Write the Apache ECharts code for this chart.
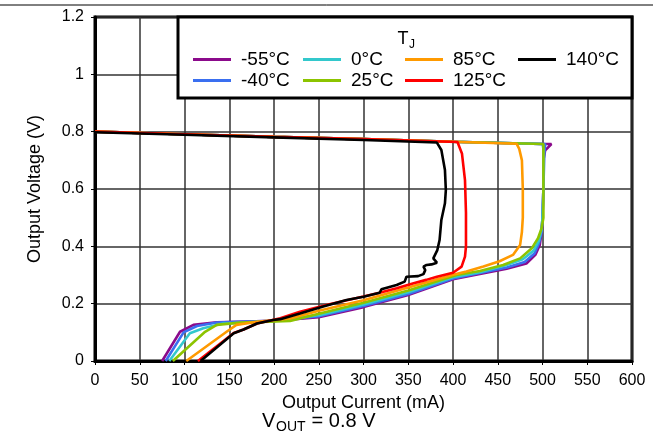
<!DOCTYPE html>
<html>
<head>
<meta charset="utf-8">
<script src="https://cdn.jsdelivr.net/npm/echarts@6/dist/echarts.min.js"></script>
<style>
html,body{margin:0;padding:0;background:#fff;}
#chart{width:653px;height:438px;}
</style>
</head>
<body>
<div id="chart"></div>
<script>
// Axis settings
const xMin = 0, xMax = 600, xStep = 50;
const yMin = 0, yMax = 1.2, yStep = 0.2;
const xTitle = 'Output Current (mA)';
const yTitle = 'Output Voltage (V)';

// Series names (junction temperature)
const seriesNames = ['-55°C', '-40°C', '0°C', '25°C', '85°C', '125°C', '140°C'];
const seriesColors = ['#8b0a8b', '#3a6ff0', '#33c8cc', '#8cc400', '#ff9a00', '#ff0000', '#000000'];

// [current mA, voltage V]
const tm55 = [[0,0.800],[100,0.791],[200,0.782],[300,0.774],[400,0.765],[500,0.757],[510,0.757],[503,0.735],[501,0.70],[501,0.60],[500,0.50],[499,0.45],[497,0.405],[492,0.37],[482,0.34],[460,0.322],[430,0.304],[400,0.285],[350,0.23],[300,0.188],[250,0.153],[200,0.140],[160,0.137],[136,0.135],[110,0.126],[95,0.102],[75,0]];
const tm40 = [[0,0.800],[100,0.791],[200,0.782],[300,0.774],[400,0.765],[500,0.757],[503,0.757],[502,0.72],[501,0.60],[500,0.50],[499,0.45],[496,0.41],[491,0.375],[480,0.345],[460,0.326],[430,0.307],[400,0.288],[350,0.234],[300,0.192],[250,0.156],[200,0.140],[160,0.137],[136,0.134],[114,0.122],[99,0.10],[79,0]];
const t0 = [[0,0.800],[100,0.791],[200,0.782],[300,0.774],[400,0.765],[500,0.757],[501,0.74],[501,0.60],[500,0.50],[499,0.46],[496,0.42],[490,0.385],[478,0.355],[458,0.333],[430,0.31],[400,0.292],[350,0.24],[300,0.197],[250,0.16],[200,0.141],[173,0.134],[143,0.131],[121,0.114],[106,0.097],[83,0]];
const t25 = [[0,0.800],[100,0.791],[200,0.782],[300,0.774],[400,0.765],[501,0.757],[501,0.60],[501,0.50],[499,0.463],[495,0.428],[488,0.393],[475,0.358],[456,0.335],[430,0.314],[404,0.30],[350,0.246],[300,0.203],[250,0.165],[218,0.14],[162,0.134],[136,0.126],[123,0.102],[87,0]];
const t85 = [[0,0.800],[100,0.791],[200,0.782],[300,0.774],[400,0.765],[471,0.758],[474,0.74],[477,0.70],[478,0.60],[478,0.50],[477,0.45],[475,0.405],[467,0.37],[452,0.348],[434,0.33],[415,0.312],[400,0.301],[350,0.256],[300,0.212],[250,0.175],[218,0.148],[181,0.137],[158,0.126],[147,0.102],[102,0]];
const t125 = [[0,0.800],[100,0.791],[200,0.782],[300,0.774],[405,0.764],[410,0.724],[413.4,0.631],[414.5,0.516],[414.5,0.40],[413.4,0.364],[409.6,0.329],[400,0.308],[382,0.294],[370,0.283],[356,0.271],[337,0.254],[318,0.238],[300,0.225],[263,0.199],[229,0.172],[207,0.149],[181,0.131],[166,0.11],[155,0.098],[115,0]];
const t140 = [[0,0.798],[100,0.789],[200,0.78],[300,0.771],[382,0.762],[387,0.736],[391,0.666],[392,0.596],[391,0.55],[387,0.492],[385,0.422],[382.5,0.387],[378,0.358],[382,0.343],[376,0.337],[370.5,0.335],[367,0.329],[369,0.317],[367,0.303],[361,0.296],[348,0.294],[346,0.277],[337,0.265],[330,0.259],[320,0.25],[318,0.238],[300,0.224],[281,0.213],[255,0.19],[229,0.166],[207,0.146],[199,0.143],[181,0.131],[166,0.11],[155,0.097],[118,0]];

const seriesData = [tm55, tm40, t0, t25, t85, t125, t140];

// legend columns (names per column)
const legendCols = [['-55°C', '-40°C'], ['0°C', '25°C'], ['85°C', '125°C'], ['140°C']];
const legendColX = [193, 303, 405, 518];

const FONT = '"Liberation Sans", Arial, sans-serif';

const chart = echarts.init(document.getElementById('chart'), null, {renderer: 'canvas'});

const option = {
  animation: false,
  backgroundColor: '#fff',
  grid: {left: 95, right: 21, top: 17, bottom: 77, show: true, borderColor: '#000', borderWidth: 3, backgroundColor: 'transparent'},
  xAxis: {
    type: 'value', min: xMin, max: xMax, interval: xStep,
    name: xTitle, nameLocation: 'middle', nameGap: 31,
    nameTextStyle: {fontFamily: FONT, fontSize: 18, color: '#000'},
    axisLine: {show: true, lineStyle: {color: '#000', width: 3}},
    axisTick: {show: true, length: 4, lineStyle: {color: '#000', width: 1}},
    axisLabel: {fontFamily: FONT, fontSize: 16, color: '#000', margin: 12},
    splitLine: {show: true, lineStyle: {color: '#333', width: 1.5}}
  },
  yAxis: {
    type: 'value', min: yMin, max: yMax, interval: yStep,
    name: yTitle, nameLocation: 'middle', nameGap: 51,
    nameTextStyle: {fontFamily: FONT, fontSize: 18, color: '#000'},
    axisLine: {show: true, lineStyle: {color: '#000', width: 3}},
    axisTick: {show: true, length: 4, lineStyle: {color: '#000', width: 1}},
    axisLabel: {fontFamily: FONT, fontSize: 16, color: '#000', margin: 11,
      formatter: v => (Math.round(v * 10) / 10).toString()},
    splitLine: {show: true, lineStyle: {color: '#333', width: 1.5}}
  },
  legend: legendCols.map((col, i) => ({
    data: col, orient: 'vertical', left: legendColX[i], top: 49,
    padding: 0, itemGap: 0, itemWidth: 38, itemHeight: 3, icon: 'rect',
    textStyle: {fontFamily: FONT, fontSize: 19, color: '#000', lineHeight: 21, padding: [0, 0, 0, 5]},
    selectedMode: false
  })),
  graphic: [
    {type: 'line', shape: {x1: 0, y1: 5, x2: 653, y2: 5}, style: {stroke: '#000', lineWidth: 1}, z: 10},
    {type: 'rect', shape: {x: 178, y: 17, width: 454, height: 81}, style: {fill: '#fff', stroke: '#000', lineWidth: 3}, z: 3},
    {type: 'text', x: 403, y: 39, style: {text: 'T', font: '18px ' + FONT, fill: '#000', textAlign: 'center', textVerticalAlign: 'middle'}, z: 5},
    {type: 'text', x: 409, y: 45, style: {text: 'J', font: '12px ' + FONT, fill: '#000', textAlign: 'left', textVerticalAlign: 'middle'}, z: 5},
    {type: 'text', x: 262, y: 421, style: {text: 'V', font: '20px ' + FONT, fill: '#000', textAlign: 'left', textVerticalAlign: 'middle'}, z: 5},
    {type: 'text', x: 276, y: 427, style: {text: 'OUT', font: '14px ' + FONT, fill: '#000', textAlign: 'left', textVerticalAlign: 'middle'}, z: 5},
    {type: 'text', x: 306, y: 421, style: {text: ' = 0.8 V', font: '20px ' + FONT, fill: '#000', textAlign: 'left', textVerticalAlign: 'middle'}, z: 5}
  ],
  series: seriesNames.map((name, i) => ({
    name: name, type: 'line', data: seriesData[i],
    showSymbol: false, symbol: 'none', smooth: false,
    lineStyle: {color: seriesColors[i], width: 2.6},
    itemStyle: {color: seriesColors[i]},
    z: 2 + i * 0.01
  }))
};
chart.setOption(option);
</script>
</body>
</html>
